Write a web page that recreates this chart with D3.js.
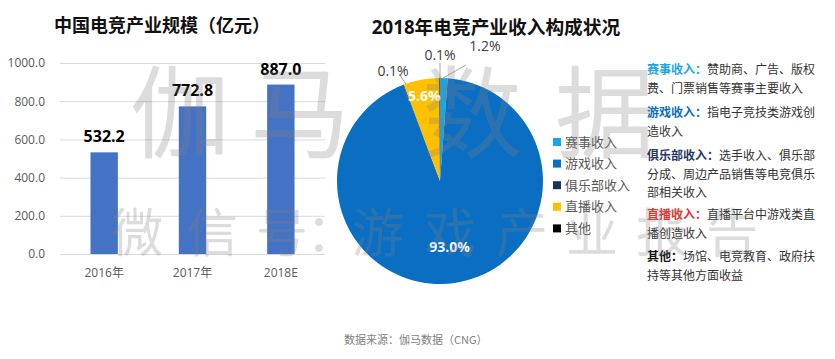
<!DOCTYPE html>
<html><head><meta charset="utf-8">
<script src="https://cdn.jsdelivr.net/npm/d3@7"></script>
<style>
html,body{margin:0;padding:0;background:#fff;}
svg{display:block;font-family:"Open Sans","Noto Sans CJK SC",sans-serif;}
</style></head>
<body>
<svg id="c" width="835" height="359"></svg>
<script>
// ---- data ----
const barCategories = ["2016年", "2017年", "2018E"];
const barValues = [532.2, 772.8, 887.0];
const yTicks = [0, 200, 400, 600, 800, 1000];

const pieCategories = ["赛事收入", "游戏收入", "俱乐部收入", "直播收入", "其他"];
const pieValues = [1.2, 93.0, 0.1, 5.6, 0.1];
const pieColors = ["#1AA6E4", "#0A6EC2", "#14375C", "#FFC000", "#000000"];

const noteLabels = ["赛事收入：", "游戏收入：", "俱乐部收入：", "直播收入：", "其他："];
const noteLabelColors = ["#1AA6E4", "#0A6EC2", "#1F3864", "#E8322E", "#111111"];
const noteLines = [
  ["赞助商、广告、版权", "费、门票销售等赛事主要收入"],
  ["指电子竞技类游戏创", "造收入"],
  ["选手收入、俱乐部", "分成、周边产品销售等电竞俱乐", "部相关收入"],
  ["直播平台中游戏类直", "播创造收入"],
  ["场馆、电竞教育、政府扶", "持等其他方面收益"]
];

const watermark1 = ["伽", "马", "数", "据"];
const watermark2 = ["微", "信", "号", "：", "游", "戏", "产", "业", "报", "告"];

const svg = d3.select("#c");

// ---- titles ----
svg.append("text").attr("x", 162).attr("y", 32).attr("text-anchor", "middle")
  .attr("font-size", 18).attr("font-weight", "bold").attr("fill", "#111")
  .text("中国电竞产业规模（亿元）");
svg.append("text").attr("x", 496).attr("y", 34).attr("text-anchor", "middle")
  .attr("font-size", 18.7).attr("font-weight", "bold").attr("fill", "#111")
  .text("2018年电竞产业收入构成状况");

// ---- bar chart ----
const x = d3.scaleBand().domain(barCategories).range([60, 325]).paddingInner(0.69).paddingOuter(0.345);
const y = d3.scaleLinear().domain([0, 1000]).range([254, 63]);

const gy = svg.append("g").attr("transform", "translate(60,0)")
  .call(d3.axisLeft(y).tickValues(yTicks).tickSize(-265).tickFormat(d3.format(".1f")));
gy.select(".domain").remove();
gy.selectAll(".tick line").attr("stroke", "#d9d9d9");
gy.selectAll(".tick text").attr("x", -15).attr("font-size", 12).attr("fill", "#595959")
  .attr("font-family", "'Open Sans',sans-serif");

svg.append("g").selectAll("rect").data(barValues).join("rect")
  .attr("x", (d, i) => x(barCategories[i]))
  .attr("width", x.bandwidth())
  .attr("y", d => y(d))
  .attr("height", d => y(0) - y(d))
  .attr("fill", "#4472C4");

svg.append("g").selectAll("text").data(barValues).join("text")
  .attr("x", (d, i) => x(barCategories[i]) + x.bandwidth() / 2)
  .attr("y", d => y(d) - 10)
  .attr("text-anchor", "middle").attr("font-size", 16).attr("font-weight", "bold").attr("fill", "#000")
  .text(d => d.toFixed(1));

const gx = svg.append("g").attr("transform", "translate(0,254)")
  .call(d3.axisBottom(x).tickSize(0));
gx.select(".domain").remove();
gx.selectAll(".tick text").attr("dy", 0).attr("y", 23).attr("font-size", 12).attr("fill", "#595959")
  .attr("font-family", "'Open Sans','Noto Sans CJK SC',sans-serif");

// ---- pie ----
const cx = 440, cy = 181, R = 103;
const pie = d3.pie().sort(null).value(d => d)(pieValues);
const arc = d3.arc().innerRadius(0).outerRadius(R);
const gp = svg.append("g").attr("transform", `translate(${cx},${cy})`);
gp.selectAll("path").data(pie).join("path")
  .attr("d", arc).attr("fill", (d, i) => pieColors[i]);

function pt(a, r) { return [r * Math.sin(a), -r * Math.cos(a)]; }
// inside labels
[[1, 0.65], [3, 0.84]].forEach(([i, f]) => {
  const a = (pie[i].startAngle + pie[i].endAngle) / 2;
  const p = pt(a, R * f);
  gp.append("text").attr("x", p[0]).attr("y", p[1]).attr("dy", "0.35em")
    .attr("text-anchor", "middle").attr("font-size", 14).attr("font-weight", "bold").attr("fill", "#fff")
    .text(pieValues[i].toFixed(1) + "%");
});
// outside labels with leader lines
const outside = [
  { i: 0, line: [[3, -103], [26, -116]], txt: [45, -130], anchor: "middle" },
  { i: 4, line: [[0, -103], [0, -118]], txt: [0, -121], anchor: "middle" },
  { i: 2, line: [[-34, -97], [-41, -107]], txt: [-47, -105], anchor: "middle" }
];
outside.forEach(o => {
  gp.append("path").attr("d", d3.line()(o.line)).attr("stroke", "#a6a6a6").attr("stroke-width", 1).attr("fill", "none");
  gp.append("text").attr("x", o.txt[0]).attr("y", o.txt[1]).attr("text-anchor", o.anchor)
    .attr("font-size", 14).attr("fill", "#404040")
    .text(pieValues[o.i].toFixed(1) + "%");
});

// ---- legend ----
const lg = svg.append("g");
pieCategories.forEach((c, i) => {
  const yy = 142 + i * 21.6;
  lg.append("rect").attr("x", 553).attr("y", yy - 4).attr("width", 8).attr("height", 8).attr("fill", pieColors[i]);
  lg.append("text").attr("x", 565).attr("y", yy).attr("dy", "0.36em").attr("font-size", 13).attr("fill", "#595959")
    .attr("font-family", "'Noto Sans CJK SC',sans-serif").text(c);
});

// ---- notes ----
const notes = svg.append("g").attr("font-family", "'Noto Sans CJK SC',sans-serif").attr("font-size", 12);
const noteY = [70, 113, 156, 215, 257];
noteLabels.forEach((lab, i) => {
  noteLines[i].forEach((ln, j) => {
    const t = notes.append("text").attr("x", 647).attr("y", noteY[i] + j * 18.5).attr("dy", "0.36em").attr("fill", "#333");
    if (j === 0) {
      t.append("tspan").attr("font-weight", "bold").attr("fill", noteLabelColors[i]).text(lab);
    }
    t.append("tspan").text(ln);
  });
});

// ---- footer ----
svg.append("text").attr("x", 344).attr("y", 340).attr("dy", "0.35em").attr("font-size", 11).attr("fill", "#7f7f7f")
  .attr("font-family", "'Noto Sans CJK SC',sans-serif").text("数据来源：伽马数据（CNG）");

// ---- watermark ----
const wm = svg.append("g").attr("fill", "#808080").attr("fill-opacity", 0.28)
  .attr("font-family", "'Noto Sans CJK SC',sans-serif").attr("text-anchor", "middle").style("pointer-events", "none");
const wm1x = [180, 300, 472, 605];
watermark1.forEach((ch, i) => wm.append("text").attr("x", wm1x[i]).attr("y", 150).attr("font-size", 100).text(ch));
const wm2x = [137, 212, 282, 332, 378, 450, 522, 592, 662, 732];
watermark2.forEach((ch, i) => wm.append("text").attr("x", wm2x[i]).attr("y", 252).attr("font-size", 52).text(ch));
</script>
</body></html>
